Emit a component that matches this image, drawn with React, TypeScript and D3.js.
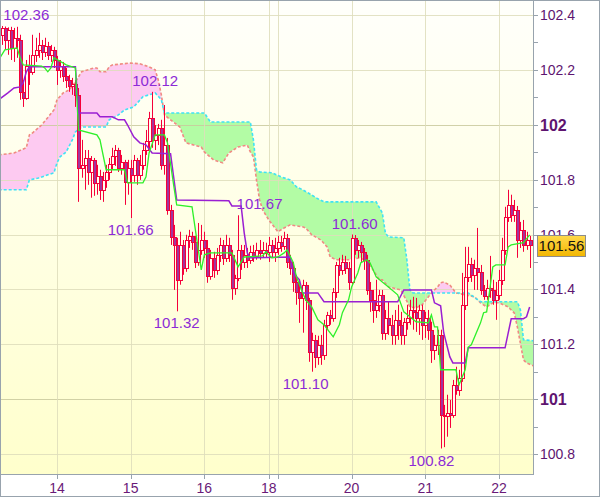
import React, { useEffect, useRef } from 'react';
import * as d3 from 'd3';

const W = 600;
const H = 497;
const plotW = 533;
const plotH = 474;

// hourly candles [open, high, low, close], from the 13th 06:00 to the 22nd 10:00
const ohlc: [number, number, number, number][] = [
  [102.328, 102.360, 102.291, 102.353], [102.353, 102.358, 102.273, 102.309], [102.309, 102.355, 102.255, 102.346],
  [102.346, 102.357, 102.236, 102.280], [102.280, 102.353, 102.229, 102.317], [102.317, 102.357, 102.244, 102.309],
  [102.309, 102.328, 102.091, 102.120], [102.120, 102.163, 102.065, 102.098], [102.098, 102.236, 102.091, 102.214],
  [102.214, 102.255, 102.145, 102.193], [102.193, 102.328, 102.182, 102.255], [102.255, 102.317, 102.229, 102.273],
  [102.273, 102.335, 102.244, 102.291], [102.291, 102.309, 102.236, 102.266], [102.266, 102.317, 102.247, 102.287],
  [102.287, 102.302, 102.236, 102.255], [102.255, 102.291, 102.229, 102.273], [102.273, 102.284, 102.207, 102.236],
  [102.236, 102.251, 102.145, 102.200], [102.200, 102.236, 102.171, 102.214], [102.214, 102.229, 102.156, 102.178],
  [102.178, 102.207, 102.134, 102.163], [102.163, 102.182, 102.120, 102.142], [102.142, 102.171, 102.109, 102.149],
  [102.149, 102.163, 102.065, 102.109], [102.109, 102.134, 101.719, 101.843], [101.843, 101.945, 101.807, 101.854],
  [101.854, 101.908, 101.763, 101.879], [101.879, 101.908, 101.781, 101.828], [101.828, 101.886, 101.734, 101.872],
  [101.872, 101.879, 101.741, 101.788], [101.788, 101.854, 101.745, 101.814], [101.814, 101.836, 101.726, 101.763],
  [101.763, 101.828, 101.719, 101.799], [101.799, 101.854, 101.770, 101.828], [101.828, 101.879, 101.799, 101.857],
  [101.857, 101.916, 101.836, 101.886], [101.886, 101.926, 101.850, 101.908], [101.908, 101.916, 101.828, 101.843],
  [101.843, 101.890, 101.818, 101.865], [101.865, 101.872, 101.708, 101.792], [101.792, 101.872, 101.745, 101.843],
  [101.843, 101.872, 101.660, 101.818], [101.818, 101.890, 101.792, 101.872], [101.872, 101.879, 101.781, 101.818],
  [101.818, 101.890, 101.799, 101.854], [101.854, 101.934, 101.836, 101.908], [101.908, 101.981, 101.890, 101.941],
  [101.941, 102.047, 101.901, 102.025], [102.025, 102.120, 101.916, 101.945], [101.945, 101.999, 101.908, 101.963],
  [101.963, 102.003, 101.926, 101.988], [101.988, 102.018, 101.836, 101.854], [101.854, 102.072, 101.818, 101.926],
  [101.926, 101.952, 101.672, 101.690], [101.690, 101.708, 101.562, 101.591], [101.591, 101.635, 101.398, 101.562],
  [101.562, 101.588, 101.320, 101.435], [101.435, 101.610, 101.417, 101.562], [101.562, 101.580, 101.453, 101.478],
  [101.478, 101.599, 101.464, 101.580], [101.580, 101.617, 101.551, 101.595], [101.595, 101.610, 101.544, 101.573],
  [101.573, 101.595, 101.478, 101.500], [101.500, 101.642, 101.486, 101.544], [101.544, 101.635, 101.526, 101.580],
  [101.580, 101.610, 101.515, 101.551], [101.551, 101.580, 101.424, 101.449], [101.449, 101.544, 101.435, 101.515],
  [101.515, 101.537, 101.442, 101.471], [101.471, 101.551, 101.453, 101.526], [101.526, 101.588, 101.500, 101.562],
  [101.562, 101.580, 101.489, 101.515], [101.515, 101.599, 101.500, 101.562], [101.562, 101.588, 101.500, 101.526],
  [101.526, 101.544, 101.362, 101.405], [101.405, 101.453, 101.380, 101.440], [101.440, 101.670, 101.430, 101.544],
  [101.544, 101.562, 101.471, 101.500], [101.500, 101.562, 101.478, 101.526], [101.526, 101.551, 101.478, 101.508],
  [101.508, 101.559, 101.493, 101.537], [101.537, 101.562, 101.500, 101.522], [101.522, 101.570, 101.508, 101.544],
  [101.544, 101.580, 101.508, 101.533], [101.533, 101.573, 101.515, 101.544], [101.544, 101.570, 101.515, 101.537],
  [101.537, 101.591, 101.500, 101.562], [101.562, 101.580, 101.515, 101.537], [101.537, 101.588, 101.500, 101.551],
  [101.551, 101.595, 101.526, 101.573], [101.573, 101.595, 101.537, 101.559], [101.559, 101.610, 101.544, 101.588],
  [101.588, 101.602, 101.478, 101.500], [101.500, 101.526, 101.453, 101.478], [101.478, 101.500, 101.391, 101.427],
  [101.427, 101.453, 101.344, 101.391], [101.391, 101.427, 101.278, 101.369], [101.369, 101.435, 101.242, 101.416],
  [101.416, 101.427, 101.325, 101.362], [101.362, 101.369, 101.136, 101.172], [101.172, 101.242, 101.100, 101.216],
  [101.216, 101.234, 101.114, 101.154], [101.154, 101.231, 101.125, 101.198], [101.198, 101.234, 101.125, 101.161],
  [101.161, 101.289, 101.143, 101.271], [101.271, 101.318, 101.253, 101.307], [101.307, 101.325, 101.271, 101.296],
  [101.296, 101.405, 101.282, 101.391], [101.391, 101.500, 101.369, 101.489], [101.489, 101.515, 101.449, 101.471],
  [101.471, 101.526, 101.453, 101.500], [101.500, 101.522, 101.456, 101.478], [101.478, 101.500, 101.398, 101.427],
  [101.427, 101.600, 101.413, 101.588], [101.588, 101.598, 101.526, 101.544], [101.544, 101.580, 101.515, 101.562],
  [101.562, 101.573, 101.500, 101.537], [101.537, 101.551, 101.471, 101.508], [101.508, 101.526, 101.380, 101.398],
  [101.398, 101.427, 101.318, 101.362], [101.362, 101.398, 101.278, 101.325], [101.325, 101.435, 101.296, 101.344],
  [101.344, 101.398, 101.318, 101.380], [101.380, 101.398, 101.216, 101.242], [101.242, 101.325, 101.216, 101.296],
  [101.296, 101.355, 101.234, 101.271], [101.271, 101.307, 101.198, 101.234], [101.234, 101.325, 101.198, 101.289],
  [101.289, 101.344, 101.216, 101.271], [101.271, 101.318, 101.198, 101.234], [101.234, 101.296, 101.198, 101.282],
  [101.282, 101.344, 101.253, 101.296], [101.296, 101.362, 101.271, 101.325], [101.325, 101.373, 101.253, 101.318],
  [101.318, 101.369, 101.245, 101.296], [101.296, 101.344, 101.234, 101.325], [101.325, 101.344, 101.216, 101.271],
  [101.271, 101.318, 101.223, 101.296], [101.296, 101.325, 101.216, 101.253], [101.253, 101.282, 101.132, 101.180],
  [101.180, 101.234, 101.143, 101.198], [101.198, 101.253, 101.161, 101.234], [101.234, 101.253, 100.820, 100.943],
  [100.943, 100.979, 100.825, 100.939], [100.939, 101.016, 100.863, 100.950], [100.950, 100.997, 100.895, 100.943],
  [100.943, 101.070, 100.932, 101.052], [101.052, 101.118, 101.016, 101.034], [101.034, 101.107, 101.012, 101.078],
  [101.078, 101.460, 101.063, 101.344], [101.344, 101.555, 101.325, 101.446], [101.446, 101.555, 101.427, 101.493],
  [101.493, 101.515, 101.427, 101.453], [101.453, 101.508, 101.398, 101.478], [101.478, 101.624, 101.398, 101.464],
  [101.464, 101.489, 101.380, 101.398], [101.398, 101.416, 101.362, 101.376], [101.376, 101.435, 101.362, 101.405],
  [101.405, 101.522, 101.369, 101.398], [101.398, 101.435, 101.344, 101.362], [101.362, 101.427, 101.289, 101.380],
  [101.380, 101.471, 101.362, 101.435], [101.435, 101.588, 101.416, 101.544], [101.544, 101.701, 101.526, 101.664],
  [101.664, 101.763, 101.646, 101.708], [101.708, 101.745, 101.646, 101.672], [101.672, 101.726, 101.646, 101.690],
  [101.690, 101.704, 101.515, 101.580], [101.580, 101.646, 101.551, 101.617], [101.617, 101.653, 101.537, 101.562],
  [101.562, 101.610, 101.544, 101.580], [101.580, 101.595, 101.478, 101.560],
];

// first candle of each day (index) and its label
const dayStarts = [18, 42, 66, 87, 90, 114, 138, 162];
const dayLabels = ['14', '15', '16', '18', '', '20', '21', '22'];

const yTicks = [100.8, 101, 101.2, 101.4, 101.6, 101.8, 102, 102.2, 102.4];
const yMinorTicks = [100.9, 101.1, 101.3, 101.5, 101.7, 101.9, 102.1, 102.3];

// conversion line (green) and base line (purple): [candle index, price]
const tenkan: [number, number][] = [
  [-1, 102.236], [1, 102.273], [5, 102.280], [6, 102.244], [7, 102.218], [13, 102.214], [14, 102.207], [15, 102.193],
  [16, 102.207], [17, 102.244], [21, 102.218], [24, 102.207], [25, 101.981], [31, 101.963], [32, 101.945], [34, 101.836],
  [40, 101.836], [41, 101.788], [46, 101.788], [47, 101.810], [48, 101.897], [50, 101.963], [53, 101.963], [54, 101.934],
  [56, 101.781], [57, 101.708], [62, 101.701], [65, 101.471], [66, 101.526], [68, 101.533], [75, 101.533], [77, 101.482],
  [79, 101.518], [85, 101.522], [86, 101.537], [88, 101.515], [90, 101.518], [92, 101.533], [93, 101.544], [95, 101.497],
  [96, 101.446], [99, 101.362], [101, 101.336], [103, 101.289], [105, 101.271], [108, 101.227], [110, 101.271], [111, 101.315],
  [113, 101.362], [114, 101.409], [116, 101.460], [117, 101.497], [119, 101.508], [120, 101.497], [122, 101.446], [124, 101.427],
  [126, 101.409], [129, 101.380], [131, 101.318], [133, 101.300], [135, 101.282], [139, 101.278], [140, 101.307], [141, 101.263],
  [142, 101.263], [143, 101.107], [148, 101.107], [149, 101.052], [151, 101.107], [152, 101.190], [153, 101.198], [156, 101.278],
  [157, 101.315], [158, 101.318], [159, 101.398], [160, 101.482], [161, 101.489], [164, 101.489], [165, 101.555], [166, 101.562],
  [170, 101.570], [172, 101.599],
];

const kijun: [number, number][] = [
  [-1, 102.091], [2, 102.116], [4, 102.134], [6, 102.138], [7, 102.153], [8, 102.193], [9, 102.211], [24, 102.211],
  [25, 102.043], [31, 102.043], [32, 102.029], [36, 102.029], [38, 102.018], [40, 102.018], [41, 101.999], [43, 101.956],
  [45, 101.934], [47, 101.927], [49, 101.897], [55, 101.894], [56, 101.810], [57, 101.726], [74, 101.723], [75, 101.704],
  [78, 101.704], [79, 101.606], [80, 101.533], [81, 101.515], [94, 101.518], [95, 101.460], [97, 101.435], [98, 101.387],
  [103, 101.387], [105, 101.355], [129, 101.355], [131, 101.398], [140, 101.398], [141, 101.351], [143, 101.340], [144, 101.242],
  [146, 101.154], [147, 101.132], [151, 101.132], [152, 101.187], [164, 101.187], [166, 101.293], [170, 101.293], [171, 101.300],
  [172, 101.336],
];

// cloud edges, shifted forward: leading span A (cyan) and span B (salmon)
const spanA: [number, number][] = [
  [-1, 101.763], [8, 101.763], [9, 101.799], [12, 101.806], [17, 101.825], [18, 101.861], [19, 101.883], [21, 101.901],
  [23, 101.945], [24, 101.974], [26, 101.992], [34, 101.992], [35, 102.018], [38, 102.036], [40, 102.054], [43, 102.065],
  [46, 102.102], [48, 102.109], [50, 102.116], [52, 102.091], [53, 102.043], [66, 102.043], [68, 102.010], [81, 102.010],
  [82, 101.945], [83, 101.836], [84, 101.828], [88, 101.825], [91, 101.810], [94, 101.799], [96, 101.774], [98, 101.763],
  [101, 101.744], [103, 101.730], [105, 101.719], [122, 101.719], [124, 101.679], [125, 101.606], [126, 101.591], [131, 101.588],
  [132, 101.508], [133, 101.398], [134, 101.387], [152, 101.387], [156, 101.355], [168, 101.355], [169, 101.325], [170, 101.216],
  [174, 101.212],
];

const spanB: [number, number][] = [
  [-1, 101.890], [4, 101.897], [8, 101.916], [9, 101.963], [10, 101.970], [13, 101.999], [17, 102.054], [18, 102.091],
  [20, 102.116], [22, 102.127], [24, 102.156], [26, 102.193], [30, 102.207], [31, 102.207], [32, 102.193], [34, 102.193],
  [35, 102.211], [36, 102.218], [42, 102.225], [45, 102.222], [48, 102.211], [50, 102.200], [51, 102.163], [52, 102.109],
  [53, 102.036], [55, 102.018], [58, 101.992], [60, 101.934], [65, 101.919], [66, 101.901], [69, 101.872], [72, 101.861],
  [74, 101.897], [77, 101.919], [80, 101.926], [81, 101.901], [82, 101.883], [83, 101.799], [84, 101.726], [85, 101.690],
  [87, 101.653], [90, 101.610], [92, 101.624], [94, 101.635], [98, 101.628], [99, 101.624], [101, 101.599], [104, 101.580],
  [106, 101.555], [107, 101.518], [109, 101.508], [113, 101.508], [117, 101.515], [119, 101.500], [121, 101.471], [123, 101.435],
  [124, 101.435], [126, 101.409], [130, 101.398], [133, 101.336], [135, 101.333], [137, 101.344], [140, 101.387], [142, 101.409],
  [143, 101.424], [144, 101.427], [146, 101.416], [148, 101.387], [151, 101.380], [154, 101.373], [156, 101.351], [158, 101.336],
  [160, 101.351], [162, 101.351], [165, 101.336], [167, 101.314], [168, 101.263], [170, 101.143], [171, 101.132], [174, 101.118],
];

// swing highs / lows written on the chart
const extremes = [
  { i: 8, v: 102.36, above: true },
  { i: 50, v: 102.12, above: true },
  { i: 42, v: 101.66, above: false },
  { i: 57, v: 101.32, above: false },
  { i: 84, v: 101.67, above: true },
  { i: 115, v: 101.6, above: true },
  { i: 99, v: 101.1, above: false },
  { i: 140, v: 100.82, above: false },
];

const FONT = "Arial, 'Liberation Sans', sans-serif";
const RED = '#f5003a';

const App: React.FC = () => {
  const svgRef = useRef<SVGSVGElement>(null);

  useEffect(() => {
    if (!svgRef.current) return;
    const svg = d3.select(svgRef.current);
    svg.selectAll('*').remove();

    const x = d3.scaleLinear().domain([-0.5735, 173.1]).range([0, plotW]);
    const y = d3.scaleLinear().domain([100.8, 102.4]).range([454, 15]);

    const defs = svg.append('defs');
    const bg = defs.append('linearGradient').attr('id', 'bg').attr('x1', 0).attr('y1', 0).attr('x2', 0).attr('y2', 1);
    bg.append('stop').attr('offset', '0%').attr('stop-color', '#fffffb');
    bg.append('stop').attr('offset', '100%').attr('stop-color', '#ffffcc');
    const tag = defs.append('linearGradient').attr('id', 'tag').attr('x1', 0).attr('y1', 0).attr('x2', 0).attr('y2', 1);
    tag.append('stop').attr('offset', '0%').attr('stop-color', '#ffd94a');
    tag.append('stop').attr('offset', '100%').attr('stop-color', '#f2b600');
    defs.append('clipPath').attr('id', 'plot').append('rect').attr('width', plotW).attr('height', plotH);

    // regions above / below span B, used to colour the cloud
    const aboveB = d3.area<[number, number]>().x(d => x(d[0])).y0(0).y1(d => y(d[1]));
    const belowB = d3.area<[number, number]>().x(d => x(d[0])).y0(plotH).y1(d => y(d[1]));
    defs.append('clipPath').attr('id', 'aboveB').append('path').attr('d', aboveB(spanB));
    defs.append('clipPath').attr('id', 'belowB').append('path').attr('d', belowB(spanB));

    svg.append('rect').attr('width', W).attr('height', H).attr('fill', '#fff');
    svg.append('rect').attr('width', plotW).attr('height', plotH).attr('fill', 'url(#bg)');

    const g = svg.append('g').attr('clip-path', 'url(#plot)');
    const line = d3.line<[number, number]>().x(d => x(d[0])).y(d => y(d[1]));

    // cloud fill
    const band = line([...spanA, ...spanB.slice().reverse()]) + 'Z';
    g.append('g').attr('clip-path', 'url(#aboveB)')
      .append('path').attr('d', band).attr('fill', '#b3fca5');
    g.append('g').attr('clip-path', 'url(#belowB)')
      .append('path').attr('d', band).attr('fill', '#fdcaf1');

    // grid
    g.selectAll('line.hgrid').data(yTicks).enter().append('line')
      .attr('x1', 0).attr('x2', plotW)
      .attr('y1', d => Math.round(y(d)) + 0.5).attr('y2', d => Math.round(y(d)) + 0.5)
      .attr('stroke', d => (Number.isInteger(d) ? '#c9c99c' : '#deddbb'))
      .attr('stroke-opacity', 0.85);
    g.selectAll('line.vgrid').data(dayStarts).enter().append('line')
      .attr('x1', d => Math.round(x(d)) + 0.5).attr('x2', d => Math.round(x(d)) + 0.5)
      .attr('y1', 0).attr('y2', plotH)
      .attr('stroke', '#deddbb').attr('stroke-opacity', 0.85);

    // cloud edges
    g.append('path').attr('d', line(spanB)).attr('fill', 'none')
      .attr('stroke', '#f08a82').attr('stroke-width', 1.6).attr('stroke-dasharray', '3,2');
    g.append('path').attr('d', line(spanA)).attr('fill', 'none')
      .attr('stroke', '#3fe2f5').attr('stroke-width', 1.6).attr('stroke-dasharray', '3,2');

    // candles
    const cg = g.append('g');
    const candle = cg.selectAll('g.c').data(ohlc).enter().append('g');
    candle.append('line')
      .attr('x1', (_, i) => Math.round(x(i)) + 0.5).attr('x2', (_, i) => Math.round(x(i)) + 0.5)
      .attr('y1', d => y(d[1])).attr('y2', d => y(d[2]))
      .attr('stroke', RED).attr('stroke-width', 1);
    candle.append('rect')
      .attr('x', (_, i) => Math.round(x(i)) - 0.5)
      .attr('y', d => Math.round(y(Math.max(d[0], d[3]))) + 0.5)
      .attr('width', 3)
      .attr('height', d => Math.max(1, Math.round(y(Math.min(d[0], d[3]))) - Math.round(y(Math.max(d[0], d[3])))))
      .attr('fill', d => (d[3] >= d[0] ? '#fffff2' : '#a2349c'))
      .attr('stroke', RED).attr('stroke-width', 1);

    // tenkan / kijun
    g.append('path').attr('d', line(kijun)).attr('fill', 'none')
      .attr('stroke', '#9a1fd2').attr('stroke-width', 1.5);
    g.append('path').attr('d', line(tenkan)).attr('fill', 'none')
      .attr('stroke', '#2ef02a').attr('stroke-width', 1.3);

    // high / low annotations
    g.selectAll('text.ext').data(extremes).enter().append('text')
      .attr('x', d => x(d.i))
      .attr('y', d => (d.above ? Math.max(18, y(d.v) - 6) : y(d.v) + 17))
      .attr('text-anchor', 'middle')
      .attr('font-family', FONT).attr('font-size', 15)
      .attr('fill', '#8c2bd6')
      .text(d => d.v.toFixed(2));

    // right axis
    const ax = svg.append('g');
    ax.append('line').attr('x1', plotW + 0.5).attr('x2', plotW + 0.5).attr('y1', 0).attr('y2', plotH)
      .attr('stroke', '#98a3ad');
    ax.selectAll('line.tk').data([...yTicks, ...yMinorTicks]).enter().append('line')
      .attr('x1', plotW).attr('x2', plotW + 5)
      .attr('y1', d => Math.round(y(d)) + 0.5).attr('y2', d => Math.round(y(d)) + 0.5)
      .attr('stroke', '#98a3ad');
    ax.selectAll('text.yl').data(yTicks).enter().append('text')
      .attr('x', 540).attr('y', d => y(d)).attr('dy', '0.36em')
      .attr('font-family', FONT)
      .attr('font-size', d => (Number.isInteger(d) ? 16 : 14))
      .attr('font-weight', d => (Number.isInteger(d) ? 'bold' : 'normal'))
      .attr('fill', '#5e1470')
      .text(d => d3.format('~r')(+d.toFixed(1)));

    // bottom axis
    ax.append('line').attr('x1', 0).attr('x2', plotW + 1).attr('y1', plotH + 0.5).attr('y2', plotH + 0.5)
      .attr('stroke', '#98a3ad');
    ax.selectAll('line.xt').data(dayStarts).enter().append('line')
      .attr('x1', d => Math.round(x(d)) + 0.5).attr('x2', d => Math.round(x(d)) + 0.5)
      .attr('y1', plotH).attr('y2', plotH + 5)
      .attr('stroke', '#98a3ad');
    ax.selectAll('text.xl').data(dayStarts).enter().append('text')
      .attr('x', d => x(d)).attr('y', 493)
      .attr('text-anchor', 'middle')
      .attr('font-family', FONT).attr('font-size', 14)
      .attr('fill', '#6a1a78')
      .text((_, i) => dayLabels[i]);

    // last price tag
    const last = ohlc[ohlc.length - 1][3];
    const ly = y(last);
    ax.append('rect').attr('x', 537.5).attr('y', Math.round(ly - 10.5) + 0.5).attr('width', 48).attr('height', 21)
      .attr('fill', 'url(#tag)').attr('stroke', '#8c8c8c');
    ax.append('text').attr('x', 561.5).attr('y', ly).attr('dy', '0.36em')
      .attr('text-anchor', 'middle')
      .attr('font-family', FONT).attr('font-size', 15)
      .attr('fill', '#111')
      .text(last.toFixed(2));

    // outer frame
    svg.append('rect').attr('x', 0.5).attr('y', 0.5).attr('width', W - 1).attr('height', H - 1)
      .attr('fill', 'none').attr('stroke', '#98a3ad');
  }, []);

  return (
    <div>
      <style>{'body{margin:0}'}</style>
      <svg ref={svgRef} width={W} height={H} style={{ display: 'block' }}></svg>
    </div>
  );
};

export default App;
